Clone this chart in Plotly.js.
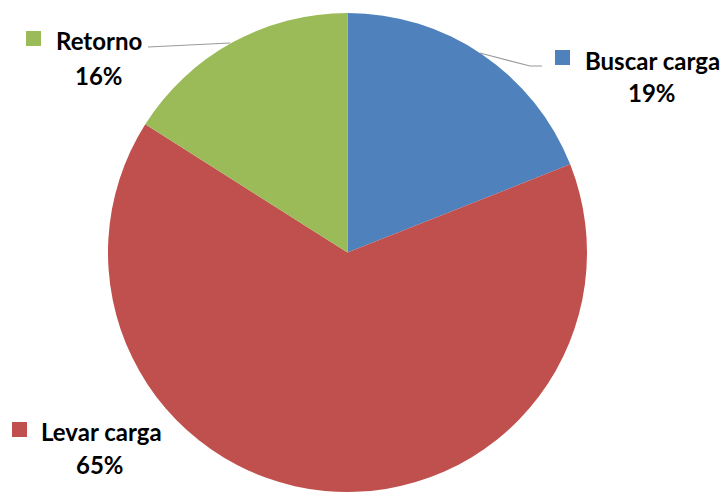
<!DOCTYPE html>
<html>
<head>
<meta charset="utf-8">
<script src="https://cdn.plot.ly/plotly-3.0.1.min.js"></script>
<style>html,body{margin:0;padding:0;background:#fff;}#chart{width:727px;height:492px;}</style>
</head>
<body>
<div id="chart"></div>
<script>
const categories = ["Buscar carga", "Levar carga", "Retorno"];
const values = [19, 65, 16];
const colors = ["#4F81BD", "#C0504D", "#9BBB59"];

const W = 727, H = 492;
const px = x => x / W;
const py = y => 1 - y / H;
const FONT = "Lato, 'Open Sans', sans-serif";

// label layout (pixel positions of label blocks)
const labelPos = [
  {name: {x: 652, y: 60}, pct: {x: 652, y: 92}, sq: [555, 50, 570, 65], line: [[480, 53], [530, 66], [542, 66]]},
  {name: {x: 101, y: 431}, pct: {x: 100, y: 464}, sq: [12, 422, 27, 437], line: null},
  {name: {x: 99, y: 40}, pct: {x: 99, y: 75}, sq: [26, 31, 41, 46], line: [[148, 47], [230, 43]]}
];

const annotations = [];
const shapes = [];
categories.forEach((c, i) => {
  const p = labelPos[i];
  annotations.push({text: "<b>" + c + "</b>", x: px(p.name.x), y: py(p.name.y), xref: "paper", yref: "paper",
    showarrow: false, xanchor: "center", yanchor: "middle", font: {family: FONT, size: 24, color: "#000"}});
  annotations.push({text: "<b>" + values[i] + "%</b>", x: px(p.pct.x), y: py(p.pct.y), xref: "paper", yref: "paper",
    showarrow: false, xanchor: "center", yanchor: "middle", font: {family: FONT, size: 24, color: "#000"}});
  shapes.push({type: "rect", xref: "paper", yref: "paper", x0: px(p.sq[0]), y0: py(p.sq[1]), x1: px(p.sq[2]), y1: py(p.sq[3]),
    fillcolor: colors[i], line: {width: 0}});
  if (p.line) {
    const path = p.line.map((pt, k) => (k === 0 ? "M" : "L") + px(pt[0]) + "," + py(pt[1])).join(" ");
    shapes.push({type: "path", xref: "paper", yref: "paper", path: path, line: {color: "#9a9a9a", width: 1.2}});
  }
});

const data = [{
  type: "pie",
  labels: categories,
  values: values,
  marker: {colors: colors, line: {width: 0}},
  sort: false,
  direction: "clockwise",
  rotation: 0,
  textinfo: "none",
  hoverinfo: "label+percent",
  showlegend: false,
  domain: {x: [px(107.5), px(587.5)], y: [0, py(13)]}
}];

const layout = {
  width: W, height: H,
  margin: {l: 0, r: 0, t: 0, b: 0},
  paper_bgcolor: "#fff",
  showlegend: false,
  annotations: annotations,
  shapes: shapes
};

Plotly.newPlot("chart", data, layout, {displayModeBar: false, staticPlot: true});
</script>
</body>
</html>
